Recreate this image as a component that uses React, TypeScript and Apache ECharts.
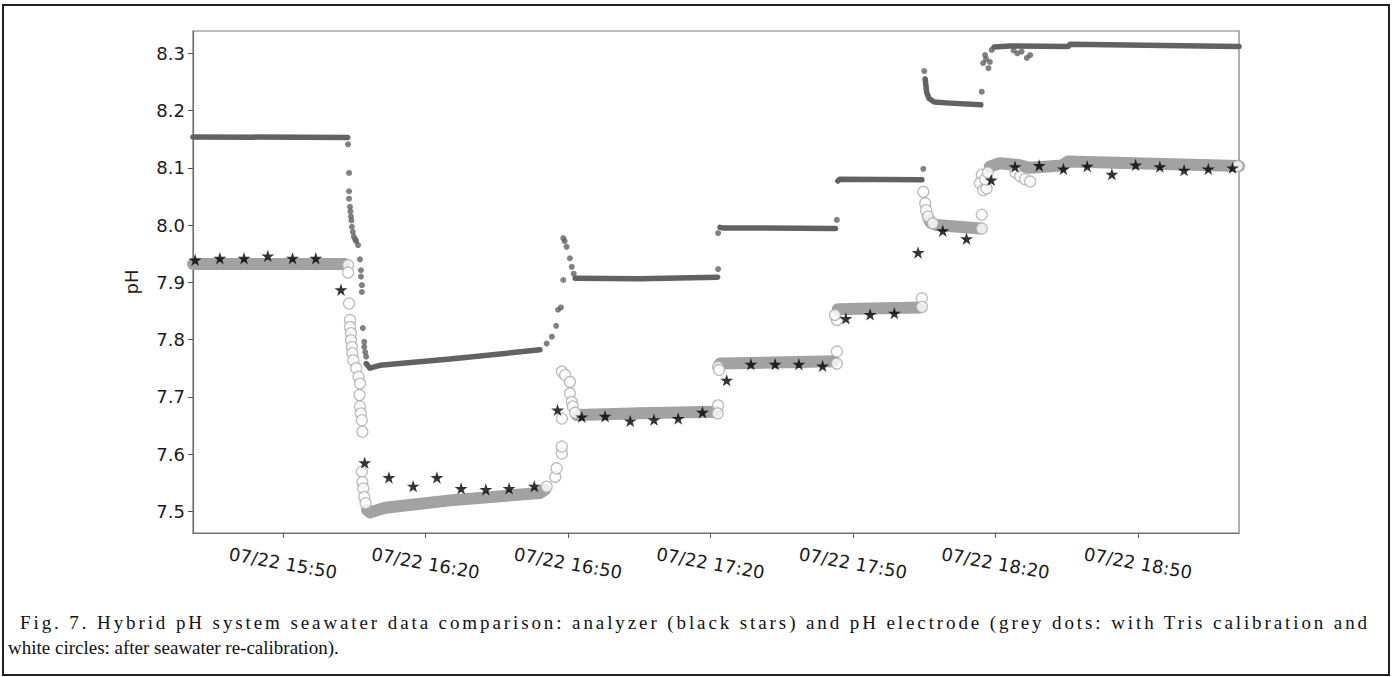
import React, { useEffect, useRef } from "react";
import * as echarts from "echarts";

// x values: minutes after 15:00 on 07/22
const xTickValues = [50, 80, 110, 140, 170, 200, 230];
const yTickValues = [7.5, 7.6, 7.7, 7.8, 7.9, 8.0, 8.1, 8.2, 8.3];

const analyzerStars = [
  [31.5, 7.939], [36.7, 7.942], [41.8, 7.942], [46.8, 7.946], [52.0, 7.942], [56.9, 7.942],
  [62.2, 7.887], [67.2, 7.585], [72.3, 7.559], [77.4, 7.544], [82.4, 7.559], [87.5, 7.540],
  [92.7, 7.538], [97.6, 7.540], [102.9, 7.544], [107.8, 7.677], [112.9, 7.665], [117.8, 7.666],
  [123.1, 7.658], [128.1, 7.660], [133.2, 7.662], [138.3, 7.673], [143.4, 7.729], [148.5, 7.757],
  [153.6, 7.757], [158.6, 7.757], [163.6, 7.754], [168.5, 7.837], [173.6, 7.844], [178.7, 7.846],
  [183.7, 7.952], [188.9, 7.990], [193.9, 7.976], [199.1, 8.079], [204.1, 8.102], [209.2, 8.104],
  [214.3, 8.098], [219.3, 8.103], [224.5, 8.089], [229.5, 8.105], [234.6, 8.102], [239.7, 8.096],
  [244.8, 8.098], [249.9, 8.100],
];

// grey dots (Tris calibration): dense plateaus
const trisPlateau1 = [[31.05, 8.154], [63.6, 8.153]];
const trisPlateau2 = [[67.5, 7.758], [68.3, 7.750], [70.4, 7.755], [85.2, 7.766], [104.1, 7.782]];
const trisPlateau3 = [[111.5, 7.907], [125.0, 7.906], [141.5, 7.909]];
const trisPlateau4 = [[142.0, 7.996], [142.6, 7.995], [166.3, 7.994]];
const trisPlateau5 = [[166.8, 8.077], [167.2, 8.080], [184.5, 8.079]];
const trisPlateau6 = [[185.2, 8.255], [185.5, 8.232], [186.0, 8.221], [187.1, 8.215], [190.4, 8.213], [196.9, 8.210]];
const trisPlateau7 = [[199.7, 8.311], [203.1, 8.313], [215.3, 8.312], [215.7, 8.316], [251.26, 8.312]];
// grey dots: isolated transition readings
const trisTransitions = [
  [63.7, 8.141], [63.9, 8.091], [63.9, 8.059], [63.9, 8.046], [64.1, 8.032], [64.2, 8.024],
  [64.3, 8.015], [64.4, 8.008], [64.5, 7.997], [64.7, 7.988], [64.9, 7.980], [65.2, 7.975],
  [65.4, 7.972], [65.8, 7.965], [66.2, 7.940], [66.4, 7.921], [66.4, 7.910], [66.6, 7.895],
  [66.6, 7.883], [66.8, 7.820], [67.1, 7.796], [67.1, 7.787], [67.3, 7.778], [67.5, 7.770],
  [105.5, 7.793], [106.6, 7.805], [107.5, 7.824], [107.9, 7.852], [108.5, 7.856], [109.0, 7.904],
  [109.0, 7.977], [109.3, 7.972], [109.7, 7.962], [110.4, 7.942], [110.8, 7.927], [111.2, 7.915],
  [141.6, 7.923], [141.6, 7.986], [166.6, 8.009], [184.8, 8.098], [185.0, 8.269],
  [197.1, 8.233], [197.4, 8.283], [197.8, 8.297], [198.0, 8.290], [198.5, 8.274], [198.8, 8.285],
  [199.2, 8.306], [203.8, 8.305], [204.6, 8.300], [205.5, 8.303], [206.6, 8.292], [207.3, 8.297],
];

// white circles (after seawater re-calibration): dense plateaus
const seaPlateauA = [[31.05, 7.932], [63.0, 7.932]];
const seaPlateauB = [[67.7, 7.502], [68.3, 7.498], [71.5, 7.506], [85.2, 7.519], [104.1, 7.532], [105.2, 7.538]];
const seaPlateauC = [[111.9, 7.668], [125.2, 7.671], [141.2, 7.674]];
const seaPlateauD = [[142.0, 7.758], [166.0, 7.762]];
const seaPlateauE = [[166.8, 7.853], [184.1, 7.856]];
const seaPlateauF = [[185.8, 8.013], [186.4, 8.004], [187.5, 8.000], [196.8, 7.994]];
const seaPlateauG = [[198.8, 8.102], [200.9, 8.108], [204.7, 8.105], [207.3, 8.100], [214.0, 8.104], [215.3, 8.111], [251.26, 8.103]];
// white circles: isolated readings
const seaCircles = [
  [63.7, 7.930], [63.7, 7.917], [63.9, 7.863], [64.1, 7.834], [64.1, 7.822], [64.3, 7.811],
  [64.3, 7.799], [64.5, 7.787], [64.6, 7.776], [64.8, 7.764], [65.4, 7.750], [65.9, 7.735],
  [66.2, 7.723], [66.1, 7.703], [66.2, 7.683], [66.4, 7.671], [66.6, 7.659], [66.7, 7.639],
  [66.6, 7.569], [66.7, 7.551], [66.9, 7.540], [67.1, 7.525], [67.4, 7.514],
  [105.5, 7.543], [107.3, 7.560], [107.6, 7.575], [108.7, 7.601], [108.7, 7.613], [108.7, 7.744],
  [109.4, 7.738], [110.4, 7.726], [110.4, 7.706], [110.8, 7.691], [111.0, 7.683], [108.7, 7.662],
  [111.5, 7.672], [141.6, 7.685], [141.5, 7.671], [141.6, 7.752], [141.8, 7.747],
  [166.6, 7.779], [166.6, 7.758], [166.6, 7.834], [166.2, 7.843], [184.5, 7.872], [184.5, 7.857],
  [184.8, 8.058], [185.2, 8.038], [185.4, 8.026], [185.8, 8.015], [186.8, 8.003],
  [197.1, 8.018], [197.1, 7.994], [197.1, 8.088], [196.7, 8.073], [197.4, 8.061], [198.1, 8.064],
  [197.8, 8.080], [198.4, 8.092], [204.2, 8.092], [205.2, 8.085], [206.2, 8.080], [207.3, 8.076],
  [251.0, 8.103],
];

const captionLine1 =
  "Fig. 7. Hybrid pH system seawater data comparison: analyzer (black stars) and pH electrode (grey dots: with Tris calibration and";
const captionLine2 = "white circles: after seawater re-calibration).";

const STAR = "path://M50,0 L61,35 L98,35 L68,57 L79,91 L50,70 L21,91 L32,57 L2,35 L39,35 Z";

function fmtTime(v: number) {
  const h = 15 + Math.floor(v / 60);
  const m = Math.round(v % 60);
  return "07/22 " + h + ":" + (m < 10 ? "0" + m : m);
}

const CAP_FONT_SIZE = 19;
const CAP_FONT_FAMILY = "Liberation Serif";
const CAP1_LEFT = 20;
const CAP1_RIGHT = 1367;

export default function App() {
  const ref = useRef<HTMLDivElement>(null);
  useEffect(() => {
    if (!ref.current) return;
    const chart = echarts.init(ref.current, null, { renderer: "svg" });
    const trisColor = "#626262";
    const seaColor = "#a2a2a2";
    const bandSeries = (data: number[][], color: string, width: number, z: number) => ({
      type: "line",
      data,
      showSymbol: false,
      symbol: "none",
      lineStyle: { color, width, cap: "round", join: "round" },
      z,
      silent: true,
    });
    const capStyle = (text: string) => ({
      text,
      fontSize: CAP_FONT_SIZE,
      fontFamily: CAP_FONT_FAMILY,
      fill: "#111",
      align: "left",
      verticalAlign: "middle",
    });
    chart.setOption({
      animation: false,
      backgroundColor: "#fff",
      grid: {
        left: 193,
        top: 31,
        width: 1046,
        height: 502,
        show: true,
        borderColor: "#7d7d7d",
        borderWidth: 1.2,
        containLabel: false,
      },
      xAxis: {
        type: "value",
        min: 31.05,
        max: 251.26,
        axisLine: { show: true, lineStyle: { color: "#6f6f6f", width: 1.2 } },
        axisTick: { show: true, customValues: xTickValues, length: 5, lineStyle: { color: "#555" } },
        axisLabel: {
          customValues: xTickValues,
          formatter: (v: number) => fmtTime(v),
          rotate: -10,
          align: "center",
          verticalAlign: "middle",
          margin: 30,
          fontSize: 18,
          fontFamily: "DejaVu Sans",
          color: "#1a1a1a",
        },
        splitLine: { show: false },
      },
      yAxis: {
        type: "value",
        min: 7.462,
        max: 8.339,
        name: "pH",
        nameLocation: "middle",
        nameGap: 53,
        nameTextStyle: { fontSize: 18, fontFamily: "DejaVu Sans", color: "#1a1a1a" },
        axisLine: { show: true, lineStyle: { color: "#6f6f6f", width: 1.2 } },
        axisTick: { show: true, customValues: yTickValues, length: 5, lineStyle: { color: "#555" } },
        axisLabel: {
          customValues: yTickValues,
          formatter: (v: number) => v.toFixed(1),
          margin: 8,
          fontSize: 18,
          fontFamily: "DejaVu Sans",
          color: "#1a1a1a",
        },
        splitLine: { show: false },
      },
      graphic: [
        {
          type: "rect",
          shape: { x: 3, y: 5, width: 1386, height: 670 },
          style: { fill: "none", stroke: "#222", lineWidth: 2 },
          silent: true,
        },
        { type: "text", x: CAP1_LEFT, y: 622, silent: true, style: capStyle(captionLine1) },
        { type: "text", x: 8, y: 647, silent: true, style: capStyle(captionLine2) },
      ],
      series: [
        bandSeries(trisPlateau1, trisColor, 5.5, 2),
        bandSeries(trisPlateau2, trisColor, 5.5, 2),
        bandSeries(trisPlateau3, trisColor, 5.5, 2),
        bandSeries(trisPlateau4, trisColor, 5.5, 2),
        bandSeries(trisPlateau5, trisColor, 5.5, 2),
        bandSeries(trisPlateau6, trisColor, 5.5, 2),
        bandSeries(trisPlateau7, trisColor, 5.5, 2),
        {
          type: "scatter",
          data: trisTransitions,
          symbol: "circle",
          symbolSize: 6,
          itemStyle: { color: trisColor },
          z: 2,
          silent: true,
        },
        bandSeries(seaPlateauA, seaColor, 12, 3),
        bandSeries(seaPlateauB, seaColor, 12, 3),
        bandSeries(seaPlateauC, seaColor, 12, 3),
        bandSeries(seaPlateauD, seaColor, 12, 3),
        bandSeries(seaPlateauE, seaColor, 12, 3),
        bandSeries(seaPlateauF, seaColor, 12, 3),
        bandSeries(seaPlateauG, seaColor, 12, 3),
        {
          type: "scatter",
          data: seaCircles,
          symbol: "circle",
          symbolSize: 11,
          itemStyle: { color: "#ffffff", borderColor: "#acacac", borderWidth: 1.3 },
          z: 4,
          silent: true,
        },
        {
          type: "scatter",
          data: analyzerStars,
          symbol: STAR,
          symbolSize: 13,
          symbolKeepAspect: true,
          itemStyle: { color: "#000" },
          z: 5,
          silent: true,
        },
      ],
    });

    // the first caption line of the original is set with wide tracking, filling the frame width
    const applyTracking = () => {
      const root = ref.current;
      if (!root) return;
      const canvas = document.createElement("canvas");
      const ctx = canvas.getContext("2d");
      if (!ctx) return;
      ctx.font = CAP_FONT_SIZE + 'px "' + CAP_FONT_FAMILY + '"';
      const natural = ctx.measureText(captionLine1).width;
      const spacing = (CAP1_RIGHT - CAP1_LEFT - natural) / (captionLine1.length - 1);
      root.querySelectorAll("text").forEach((t) => {
        if (t.textContent === captionLine1) {
          t.setAttribute("letter-spacing", spacing.toFixed(2));
          (t as SVGTextElement).style.letterSpacing = spacing.toFixed(2) + "px";
        }
      });
    };
    chart.on("finished", applyTracking);
    chart.on("rendered", applyTracking);
    applyTracking();
    const raf = requestAnimationFrame(applyTracking);
    const tm = setTimeout(applyTracking, 50);
    return () => {
      cancelAnimationFrame(raf);
      clearTimeout(tm);
      chart.dispose();
    };
  }, []);
  return (
    <div
      ref={ref}
      style={{ position: "fixed", left: 0, top: 0, width: 1393, height: 677, background: "#fff" }}
    />
  );
}
